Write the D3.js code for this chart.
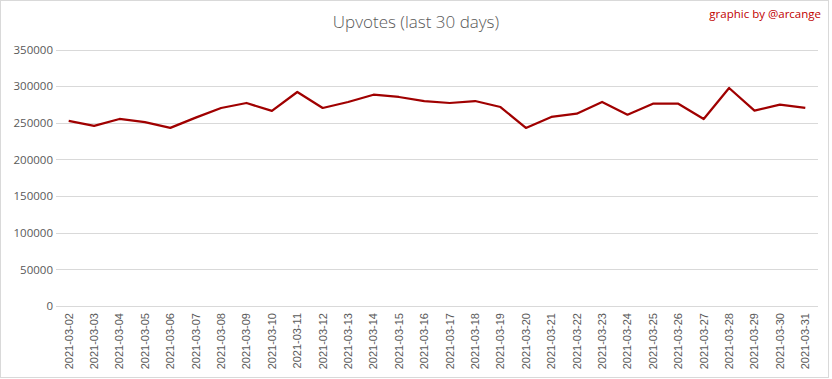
<!DOCTYPE html>
<html><head><meta charset="utf-8">
<script src="https://cdnjs.cloudflare.com/ajax/libs/d3/7.8.5/d3.min.js"></script>
<style>body{margin:0;background:#fff}svg{display:block}</style>
</head><body>
<script>
const dates = ["2021-03-02","2021-03-03","2021-03-04","2021-03-05","2021-03-06","2021-03-07","2021-03-08","2021-03-09","2021-03-10","2021-03-11","2021-03-12","2021-03-13","2021-03-14","2021-03-15","2021-03-16","2021-03-17","2021-03-18","2021-03-19","2021-03-20","2021-03-21","2021-03-22","2021-03-23","2021-03-24","2021-03-25","2021-03-26","2021-03-27","2021-03-28","2021-03-29","2021-03-30","2021-03-31"];
const upvotes = [252500,245800,255200,251000,243000,257000,270200,277000,266200,292000,270200,278400,288300,285200,279700,277000,279700,271500,243000,258000,262400,278400,261000,276000,276000,255200,297500,266500,274700,270200];
const yTicks = [0,50000,100000,150000,200000,250000,300000,350000];
const title = "Upvotes (last 30 days)";
const credit = "graphic by @arcange";

const W = 832, H = 379;
const m = {left:56, right:14, top:50, bottom:73};
const svg = d3.select("body").append("svg").attr("width", W).attr("height", H);
svg.append("rect").attr("x",0.5).attr("y",0.5).attr("width",828).attr("height",377)
  .attr("fill","#fff").attr("stroke","#d9d9d9");

const x = d3.scaleBand().domain(dates).range([56, 818]);
const y = d3.scaleLinear().domain([0,350000]).range([306, 49.5]);

const grid = svg.append("g");
grid.selectAll("line").data(yTicks).join("line")
  .attr("x1",56).attr("x2",818)
  .attr("y1",d=>Math.round(y(d))+0.5).attr("y2",d=>Math.round(y(d))+0.5)
  .attr("stroke","#d9d9d9").attr("stroke-width",1);

const yAxis = svg.append("g").attr("transform","translate(56,0)")
  .call(d3.axisLeft(y).tickValues(yTicks).tickSize(0).tickPadding(3).tickFormat(d3.format("d")));
yAxis.select(".domain").remove();
yAxis.selectAll("text").attr("fill","#595959").style("font-family","'Open Sans', sans-serif").style("font-size","11.5px");

const xAxis = svg.append("g").attr("transform","translate(0,306)")
  .call(d3.axisBottom(x).tickSize(0).tickPadding(0));
xAxis.select(".domain").remove();
xAxis.selectAll("text")
  .attr("fill","#595959").style("font-family","'Liberation Sans', sans-serif").style("font-size","11px")
  .attr("transform","rotate(-90)").attr("text-anchor","end")
  .attr("x",-7).attr("y",0).attr("dy","0.35em");

const line = d3.line().x((d,i)=>x(dates[i])+x.bandwidth()/2).y(d=>y(d));
svg.append("path").datum(upvotes).attr("d",line)
  .attr("fill","none").attr("stroke","#a00000").attr("stroke-width",2.25).attr("stroke-linejoin","round");

svg.append("text").attr("x",416).attr("y",28).attr("text-anchor","middle")
  .attr("fill","#595959").style("font-family","'Open Sans', sans-serif").style("font-size","17px").style("font-weight","300")
  .text(title);
svg.append("text").attr("x",821).attr("y",18).attr("text-anchor","end")
  .attr("fill","#c00000").style("font-family","'Open Sans', sans-serif").style("font-size","11.5px")
  .text(credit);
</script>
</body></html>
